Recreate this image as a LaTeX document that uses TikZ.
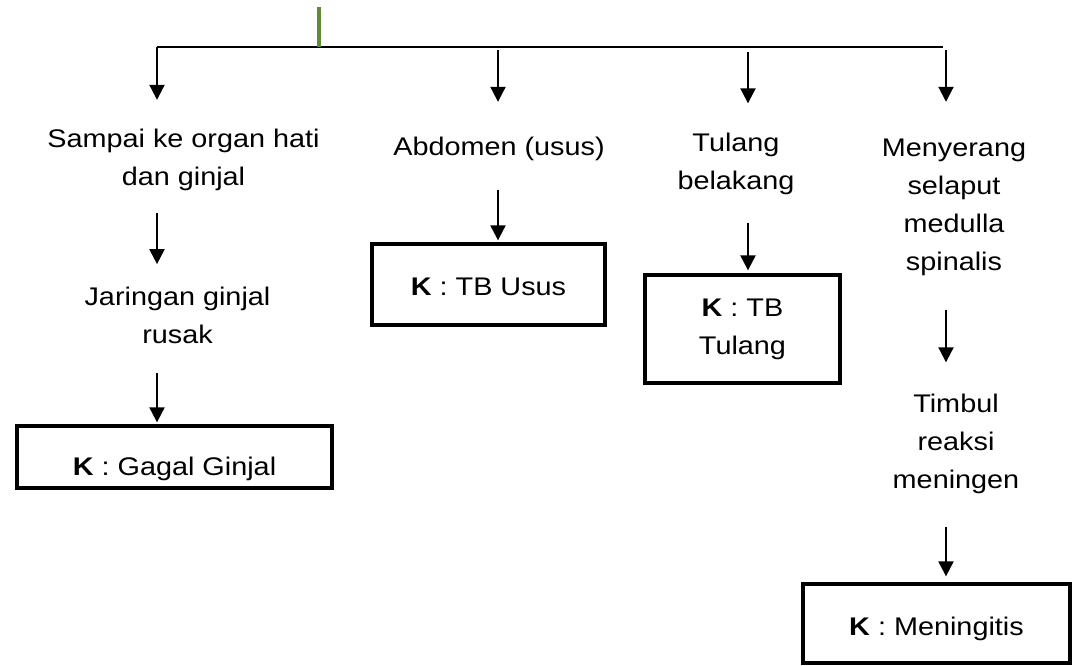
\documentclass[tikz,border=0pt]{standalone}
\usepackage{fontspec}
\setmainfont{Liberation Sans}[FakeStretch=1.13]
\usetikzlibrary{arrows.meta}
\definecolor{busgreen}{RGB}{94,138,58}
\begin{document}
\begin{tikzpicture}[x=1pt,y=-1pt,
  txt/.style={align=center,inner sep=0pt,font=\fontsize{25.5}{38}\selectfont},
  kbox/.style={draw,line width=3.3pt,align=center,inner sep=0pt,font=\fontsize{25.5}{38}\selectfont},
  arr/.style={line width=2pt,-{Triangle[length=15pt,width=15pt]}},
  busline/.style={line width=1.5pt}]
\useasboundingbox (0,0) rectangle (1072,665);
% bus
\coordinate (g0) at (319,7);
\coordinate (g1) at (319,47);
\coordinate (b1) at (157,47);
\coordinate (b2) at (498,47);
\coordinate (b3) at (748,47);
\coordinate (b4) at (946,47);
\coordinate (bend) at (943,47);
\draw[busline] (b1) -- (bend);
\draw[line width=3.5pt,busgreen] (g0) -- (g1);
% text nodes
\node[txt] (sampai) at (183.5,159.5) {Sampai ke organ hati\\dan ginjal};
\node[txt] (jar) at (177.5,315.3) {Jaringan ginjal\\rusak};
\node[txt] (abd) at (499,148.5) {Abdomen (usus)};
\node[txt] (tul) at (736,164) {Tulang\\belakang};
\node[txt] (meny) at (954,207) {Menyerang\\selaput\\medulla\\spinalis};
\node[txt] (tim) at (956,444) {Timbul\\reaksi\\meningen};
% boxes
\node[kbox,minimum width=315pt,text height=49pt,text depth=13pt] (gagal) at (174.5,457) {\textbf{K} : Gagal Ginjal};
\node[kbox,minimum width=233pt,text height=51pt,text depth=30pt] (usus) at (488.5,284.5) {\textbf{K} : TB Usus};
\node[kbox,minimum width=195pt,minimum height=108pt] (tulbox) at (742.5,329) {\textbf{K} : TB\\Tulang};
\node[kbox,minimum width=267pt,text height=51pt,text depth=28pt] (mening) at (936.5,623.5) {\textbf{K} : Meningitis};
% column 1
\draw[arr,shorten >=28.6pt] (b1) -- (b1 |- sampai.north);
\draw[arr,shorten <=22.6pt,shorten >=22.6pt] (b1 |- sampai.south) -- (b1 |- jar.north);
\draw[arr,shorten <=29pt,shorten >=2pt] (b1 |- jar.south) -- (b1 |- gagal.north);
% column 2
\draw[arr,shorten <=3pt,shorten >=34.6pt] (b2) -- (b2 |- abd.north);
\draw[arr,shorten <=29.6pt,shorten >=2pt] (b2 |- abd.south) -- (b2 |- usus.north);
% column 3
\draw[arr,shorten <=5pt,shorten >=29.6pt] (b3) -- (b3 |- tul.north);
\draw[arr,shorten <=27.6pt,shorten >=3pt] (b3 |- tul.south) -- (b3 |- tulbox.north);
% column 4
\draw[arr,shorten <=3pt,shorten >=36.6pt] (b4) -- (b4 |- meny.north);
\draw[arr,shorten <=34.6pt,shorten >=31.6pt] (b4 |- meny.south) -- (b4 |- tim.north);
\draw[arr,shorten <=32.6pt,shorten >=6pt] (b4 |- tim.south) -- (b4 |- mening.north);
\end{tikzpicture}
\end{document}
